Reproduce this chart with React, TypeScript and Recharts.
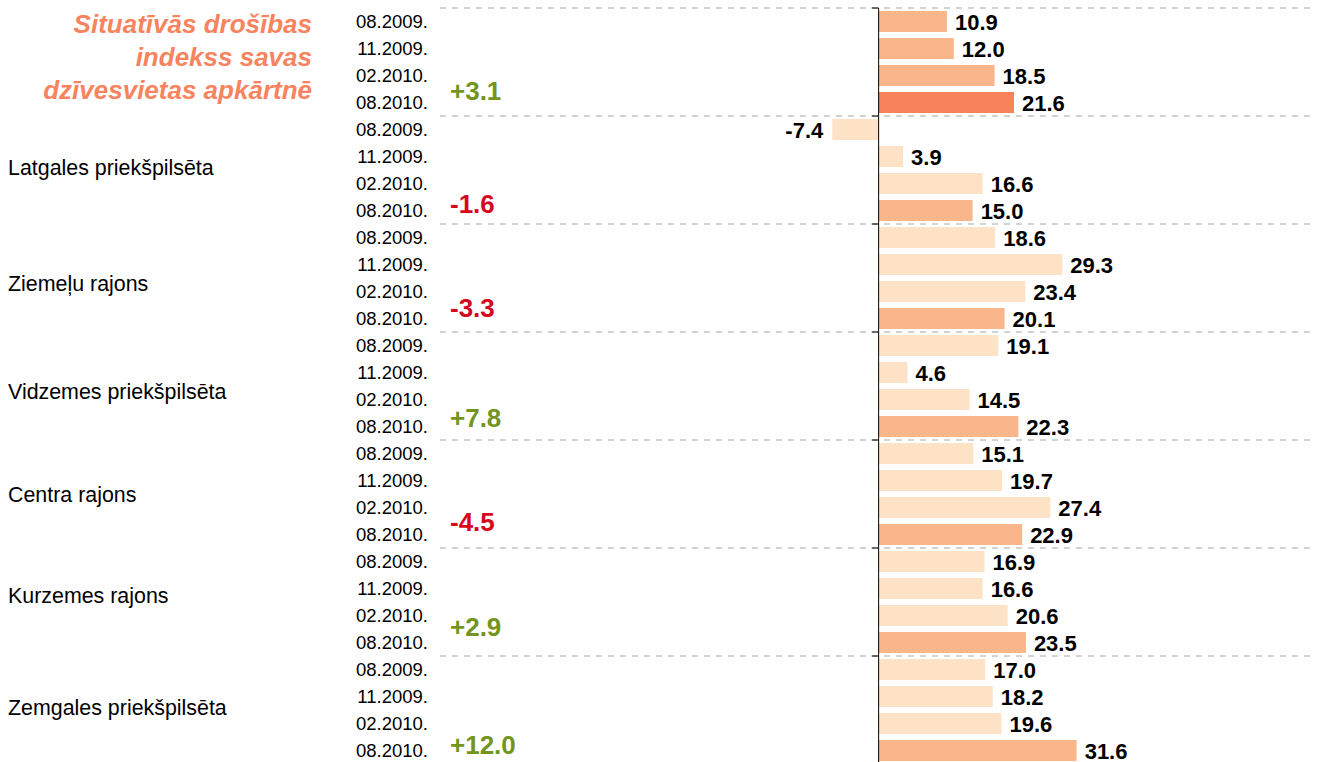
import React from 'react';
import { BarChart, Bar, XAxis, YAxis, Cell, LabelList, ReferenceLine } from 'recharts';

const periods = ['08.2009.', '11.2009.', '02.2010.', '08.2010.'];

const titleLines = ['Situatīvās drošības', 'indekss savas', 'dzīvesvietas apkārtnē'];

const groupNames = [
  '',
  'Latgales priekšpilsēta',
  'Ziemeļu rajons',
  'Vidzemes priekšpilsēta',
  'Centra rajons',
  'Kurzemes rajons',
  'Zemgales priekšpilsēta',
];

const indexAll = [10.9, 12.0, 18.5, 21.6];
const latgale = [-7.4, 3.9, 16.6, 15.0];
const ziemelu = [18.6, 29.3, 23.4, 20.1];
const vidzeme = [19.1, 4.6, 14.5, 22.3];
const centrs = [15.1, 19.7, 27.4, 22.9];
const kurzeme = [16.9, 16.6, 20.6, 23.5];
const zemgale = [17.0, 18.2, 19.6, 31.6];

const changes = ['+3.1', '-1.6', '-3.3', '+7.8', '-4.5', '+2.9', '+12.0'];

const groupValues = [indexAll, latgale, ziemelu, vidzeme, centrs, kurzeme, zemgale];

// small per-group nudges so the side texts sit where the original put them
const nameNudge = [0, -3, 5, 5, 0, -7, -3];
const changeNudge = [-12, -7, -11, -9, -13, -16, -6];

const GREEN = '#739520';
const RED = '#d7061c';
const FONT = '"Liberation Sans", Arial, sans-serif';

const rows = groupValues.flatMap((vals, g) =>
  vals.map((v, p) => ({ id: `${g}-${p}`, group: g, period: p, value: v }))
);

function barColor(group: number, period: number) {
  if (group === 0) return period === 3 ? '#f7825b' : '#f8b68a';
  return period === 3 ? '#f8b68a' : '#fde2c6';
}

// eslint-disable-next-line @typescript-eslint/no-explicit-any
function RowTick(props: any) {
  const { y, payload } = props;
  const row = rows.find((r) => r.id === payload.value);
  if (!row) return null;
  const g = row.group;
  const isPositive = changes[g].startsWith('+');
  return (
    <g fontFamily={FONT}>
      <text x={428} y={y + 6.8} textAnchor="end" fontSize={18.5} fill="#000">
        {periods[row.period]}
      </text>
      {row.period === 0 && g === 0 && titleLines.map((line, i) => (
        <text
          key={i}
          x={312}
          y={y + 11 + i * 33}
          textAnchor="end"
          fontSize={26}
          fontWeight="bold"
          fontStyle="italic"
          fill="#f7845e"
        >
          {line}
        </text>
      ))}
      {row.period === 1 && g > 0 && (
        <text x={8} y={y + 13.5 + 8 + nameNudge[g]} fontSize={21.4} fill="#000">
          {groupNames[g]}
        </text>
      )}
      {row.period === 3 && (
        <text
          x={450}
          y={y + 9 + changeNudge[g]}
          fontSize={26}
          fontWeight="bold"
          fill={isPositive ? GREEN : RED}
        >
          {changes[g]}
        </text>
      )}
    </g>
  );
}

// eslint-disable-next-line @typescript-eslint/no-explicit-any
function ValueLabel(props: any) {
  const { x, y, width, height, value } = props;
  const left = Math.min(x, x + width);
  const right = Math.max(x, x + width);
  const neg = value < 0;
  return (
    <text
      x={neg ? left - 9 : right + 8}
      y={y + height / 2 + 8.5}
      textAnchor={neg ? 'end' : 'start'}
      fontFamily={FONT}
      fontSize={22}
      fontWeight="bold"
      fill="#000"
    >
      {value.toFixed(1)}
    </text>
  );
}

const groupStarts = rows.filter((r) => r.period === 0).map((r) => r.id);

export default function App() {
  return (
    <div style={{ position: 'absolute', left: 0, top: 0, width: 1317, height: 762, overflow: 'hidden', background: '#fff' }}>
      <BarChart
        width={1317}
        height={764}
        data={rows}
        layout="vertical"
        margin={{ top: 8, right: 6, bottom: 0, left: 0 }}
        barSize={21}
      >
        <XAxis type="number" domain={[-70, 69]} hide />
        <YAxis
          type="category"
          dataKey="id"
          width={440}
          interval={0}
          tickLine={false}
          axisLine={false}
          tick={<RowTick />}
        />
        {groupStarts.map((id) => (
          <ReferenceLine
            key={`grid-${id}`}
            y={id}
            position="start"
            stroke="#a6a6a6"
            strokeDasharray="6 6"
          />
        ))}
        {groupStarts.map((id) => (
          <ReferenceLine
            key={`tick-${id}`}
            segment={[{ x: -1.1, y: id }, { x: 0, y: id }]}
            position="start"
            stroke="#000"
          />
        ))}
        <ReferenceLine x={0} stroke="#000" />
        <Bar dataKey="value" isAnimationActive={false}>
          {rows.map((r) => (
            <Cell key={r.id} fill={barColor(r.group, r.period)} />
          ))}
          <LabelList dataKey="value" content={<ValueLabel />} />
        </Bar>
      </BarChart>
    </div>
  );
}
